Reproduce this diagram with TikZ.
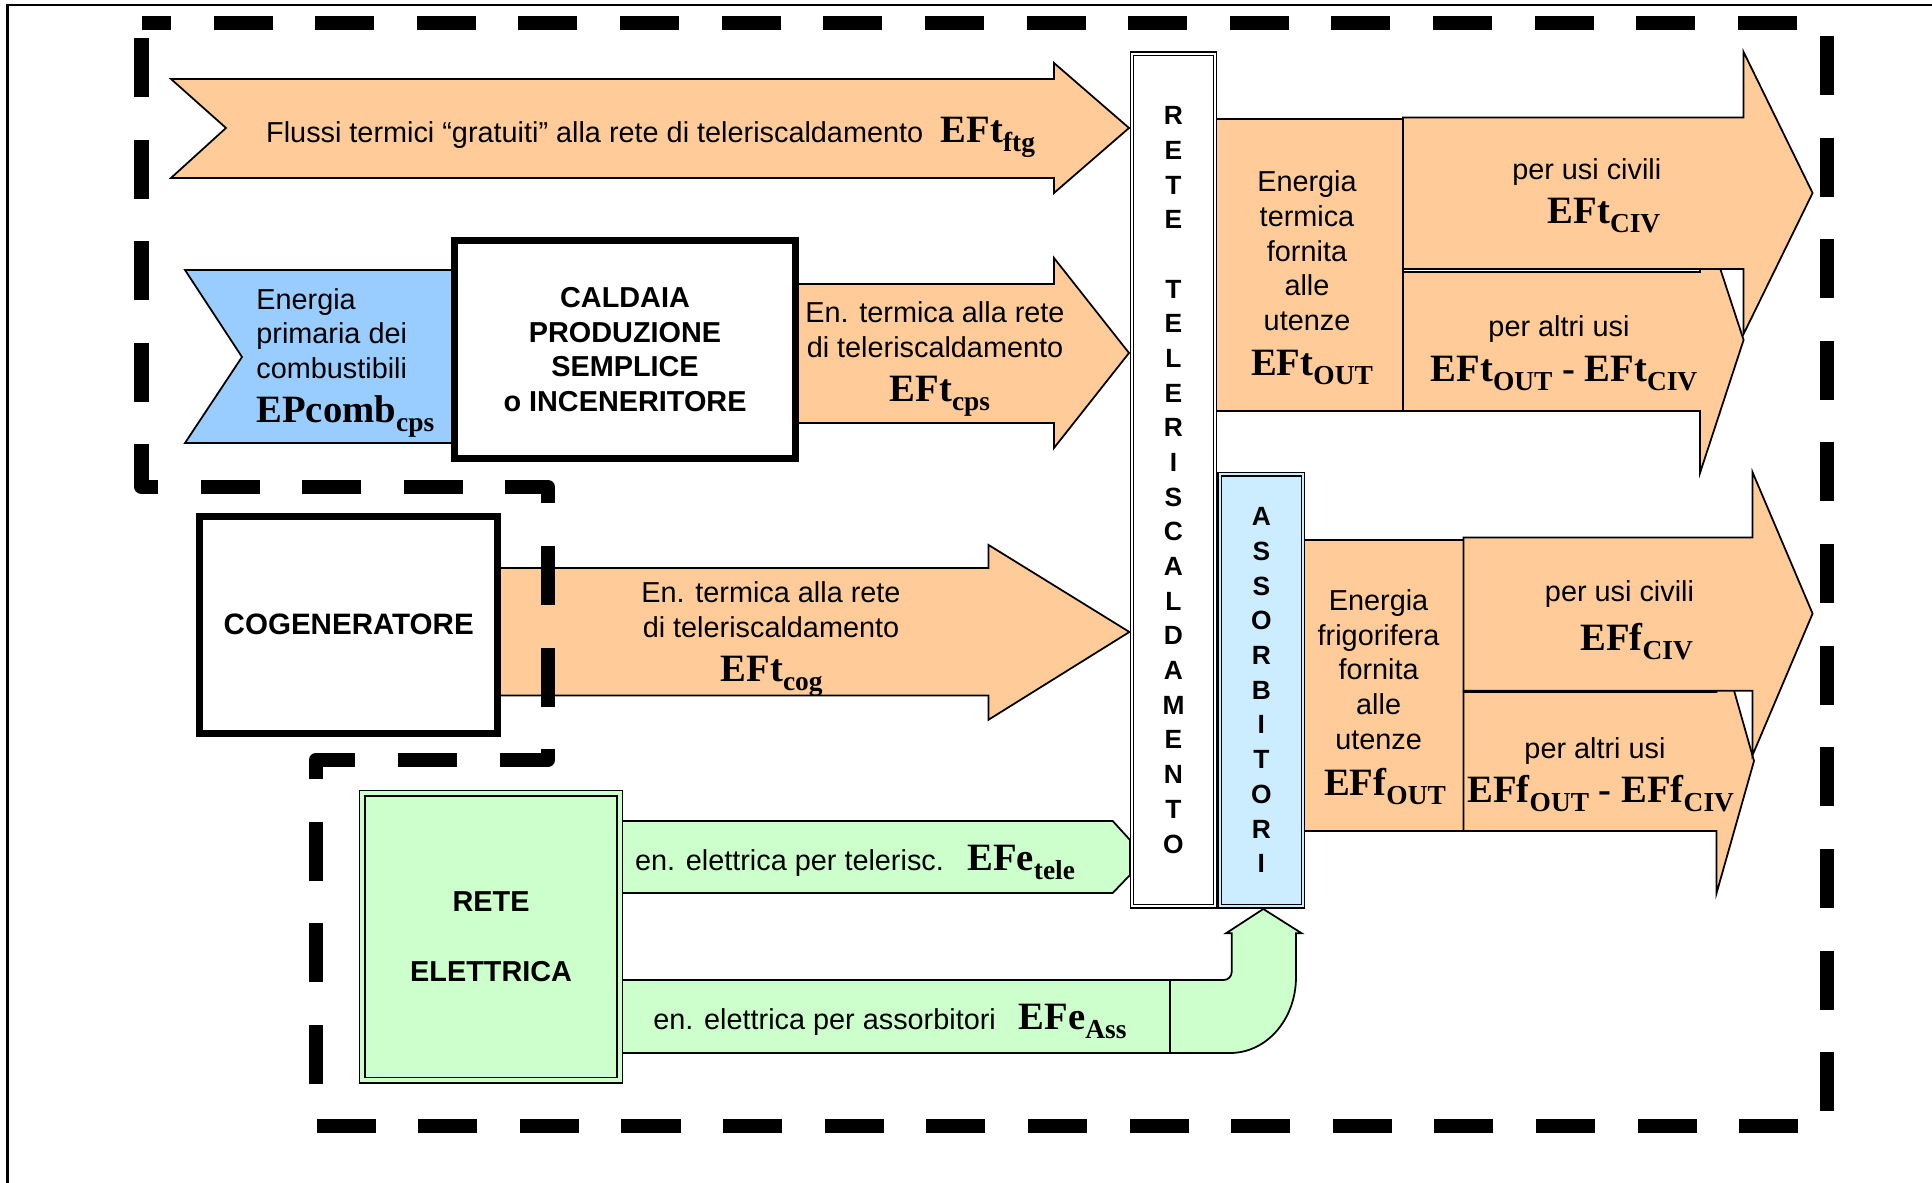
\documentclass[tikz,border=0pt]{standalone}
\usepackage{fontspec}
\setmainfont{Liberation Sans}
\newfontfamily\lserif{Liberation Serif}
\definecolor{termico}{HTML}{FFCC99}
\definecolor{primaria}{HTML}{99CCFF}
\definecolor{assorbc}{HTML}{CCECFF}
\definecolor{elettrc}{HTML}{CCFFCC}
% etichette tipo EFt_OUT
\newcommand{\eflbl}[2]{{\lserif\bfseries\fontsize{11}{13}\selectfont #1\raisebox{-2.5pt}{\fontsize{7.8}{9}\selectfont #2}}}
\tikzset{
  freccia/.style={draw=black, line width=0.5pt, line join=miter},
  caldo/.style={freccia, fill=termico},
  primario/.style={freccia, fill=primaria},
  elettrico/.style={freccia, fill=elettrc},
  testo/.style={inner sep=0pt, font=\fontsize{8.2}{9.86}\selectfont, align=center},
  lbl/.style={inner sep=0pt, anchor=base},
  blocco/.style={draw, line width=0.07cm, fill=white, inner sep=0pt,
    font=\fontsize{8.2}{9.86}\selectfont\bfseries, align=center},
  doppio/.style={draw, double, double distance=0.021cm, line width=0.4pt, fill=white,
    inner sep=0pt, font=\fontsize{7.5}{9.86}\selectfont\bfseries, align=center},
  confine/.style={line width=0.14cm, dash pattern=on 0.59cm off 0.4256cm,
    dash phase=0.295cm, line join=round},
  cornice/.style={line width=0.6pt}
}
\begin{document}
\begin{tikzpicture}[x=0.01cm, y=-0.01cm]
  \useasboundingbox (0,0) rectangle (1932,1183);
  \draw[cornice] (7.5,1183) -- (7.5,5) -- (1932,5);

  % flussi gratuiti
  \draw[caldo] (171,79) -- (1054,79) -- (1054,63) -- (1129,128) -- (1054,193)
    -- (1054,178) -- (171,178) -- (226,128) -- cycle;
  \node[testo, anchor=base west] (ftgtxt) at (265.5,143)
    {Flussi termici “gratuiti” alla rete di teleriscaldamento};
  \node[lbl, anchor=base west] (ftglbl) at (940,143) {\eflbl{EFt}{ftg}};

  % caldaia
  \draw[primario] (185,270) -- (460,270) -- (460,443) -- (185,443) -- (242,357) -- cycle;
  \draw[caldo] (790,284) -- (1054,284) -- (1054,258) -- (1129,353) -- (1054,448)
    -- (1054,423) -- (790,423) -- cycle;
  \node[blocco, minimum width=3.4cm, minimum height=2.17cm] (caldaia) at (625,349.5)
    {CALDAIA\\PRODUZIONE\\SEMPLICE\\o INCENERITORE};
  \node[testo, anchor=west, align=left] (primtxt) at (255.7,333.5)
    {Energia\\primaria dei\\combustibili};
  \node[lbl, anchor=base west] (primlbl) at (255.7,423) {\eflbl{EPcomb}{cps}};
  \node[testo] (cpstxt) at (935,330) {En. termica alla rete\\di teleriscaldamento};
  \node[lbl, anchor=base west] (cpslbl) at (889,401.7) {\eflbl{EFt}{cps}};

  % cogeneratore
  \draw[caldo] (500,568) -- (988.6,568) -- (988.6,545) -- (1129.4,632) -- (988.6,719.7)
    -- (988.6,695.4) -- (500,695.4) -- cycle;
  \node[blocco, minimum width=2.975cm, minimum height=2.165cm,
    font=\fontsize{8.4}{9.86}\selectfont\bfseries] (cogen) at (348.75,624.75) {COGENERATORE};
  \node[testo] (cogtxt) at (771,609.5) {En. termica alla rete\\di teleriscaldamento};
  \node[lbl, anchor=base west] (coglbl) at (720,681.4) {\eflbl{EFt}{cog}};

  % utenze termiche
  \draw[caldo] (1216,119) rectangle (1403,411);
  \draw[caldo] (1403,272) -- (1700,272) -- (1700,207) -- (1743.6,340) -- (1700,473)
    -- (1700,411) -- (1403,411) -- cycle;
  \draw[caldo] (1403,117.5) -- (1743.6,117.5) -- (1743.6,52) -- (1812.6,193)
    -- (1743.6,334) -- (1743.6,269) -- (1403,269) -- cycle;
  \node[testo] (outtxt) at (1307,251) {Energia\\termica\\fornita\\alle\\utenze};
  \node[lbl] (outlbl) at (1312,376) {\eflbl{EFt}{OUT}};
  \node[testo, anchor=base] (civtxt) at (1586.8,180) {per usi civili};
  \node[lbl] (civlbl) at (1604,224) {\eflbl{EFt}{CIV}};
  \node[testo, anchor=base] (altrtxt) at (1559,337) {per altri usi};
  \node[lbl] (altrlbl) at (1564,381.7) {\eflbl{EFt}{OUT}{\lserif\bfseries\fontsize{11}{13}\selectfont{} - }\eflbl{EFt}{CIV}};

  % utenze frigorifere
  \draw[caldo] (1303,540) rectangle (1463.5,831);
  \draw[caldo] (1463.5,692) -- (1716.6,692) -- (1716.6,629) -- (1754,761) -- (1716.6,893)
    -- (1716.6,831) -- (1463.5,831) -- cycle;
  \draw[caldo] (1463.5,537.4) -- (1752.6,537.4) -- (1752.6,472.4) -- (1812.6,613.6)
    -- (1752.6,755) -- (1752.6,690.8) -- (1463.5,690.8) -- cycle;
  \node[testo] (fouttxt) at (1378.6,669.5) {Energia\\frigorifera\\fornita\\alle\\utenze};
  \node[lbl] (foutlbl) at (1385,796) {\eflbl{EFf}{OUT}};
  \node[testo, anchor=base] (fcivtxt) at (1619.5,602) {per usi civili};
  \node[lbl] (fcivlbl) at (1636.6,651) {\eflbl{EFf}{CIV}};
  \node[testo, anchor=base] (faltrtxt) at (1595,758.6) {per altri usi};
  \node[lbl] (faltrlbl) at (1600.7,803) {\eflbl{EFf}{OUT}{\lserif\bfseries\fontsize{11}{13}\selectfont{} - }\eflbl{EFf}{CIV}};

  % rete elettrica
  \draw[elettrico] (619,821) -- (1112.7,821) -- (1130,840) -- (1130,875) -- (1112.7,893)
    -- (619,893) -- cycle;
  \draw[elettrico] (619,980) -- (1223.7,980) .. controls (1228.1,980) and (1231.7,976.4) .. (1231.7,972)
    -- (1231.7,933.3) -- (1226,933.3) -- (1263.3,909) -- (1301.7,933.3) -- (1296,933.3)
    -- (1296,977) .. controls (1296,1019) and (1267,1053) .. (1230,1053) -- (619,1053) -- cycle;
  \draw[freccia] (1170,980) -- (1170,1053);
  \node[doppio, fill=elettrc, double=elettrc, double distance=0.041cm, font=\fontsize{8.2}{9.86}\selectfont\bfseries,
    minimum width=2.572cm, minimum height=2.865cm] (reteel) at (491.1,936.75)
    {RETE\\[0.348cm]ELETTRICA};
  \node[testo, anchor=base west] (teletxt) at (634.4,870.8) {en. elettrica per telerisc.};
  \node[lbl, anchor=base west] (telelbl) at (966.6,870.8) {\eflbl{EFe}{tele}};
  \node[testo, anchor=base west] (asstxt) at (652.7,1029.7) {en. elettrica per assorbitori};
  \node[lbl, anchor=base west] (asslbl) at (1018,1029.7) {\eflbl{EFe}{Ass}};

  % rete di teleriscaldamento e assorbitori
  \node[doppio, minimum width=0.83cm, minimum height=8.52cm] (retetlr) at (1173.5,480)
    {R\\E\\T\\E\\\mbox{}\\T\\E\\L\\E\\R\\I\\S\\C\\A\\L\\D\\A\\M\\E\\N\\T\\O};
  \node[doppio, fill=assorbc, double=assorbc, minimum width=0.832cm, minimum height=4.315cm]
    (assorb) at (1261.4,690.25) {A\\S\\S\\O\\R\\B\\I\\T\\O\\R\\I};

  % confine del sistema
  \draw[confine] (141.5,23) -- (1826.5,23) -- (1826.5,1125.6) -- (315.6,1125.6)
    -- (315.6,760) -- (548,760) -- (548,487) -- (141.5,487) -- (141.5,23);
\end{tikzpicture}
\end{document}
